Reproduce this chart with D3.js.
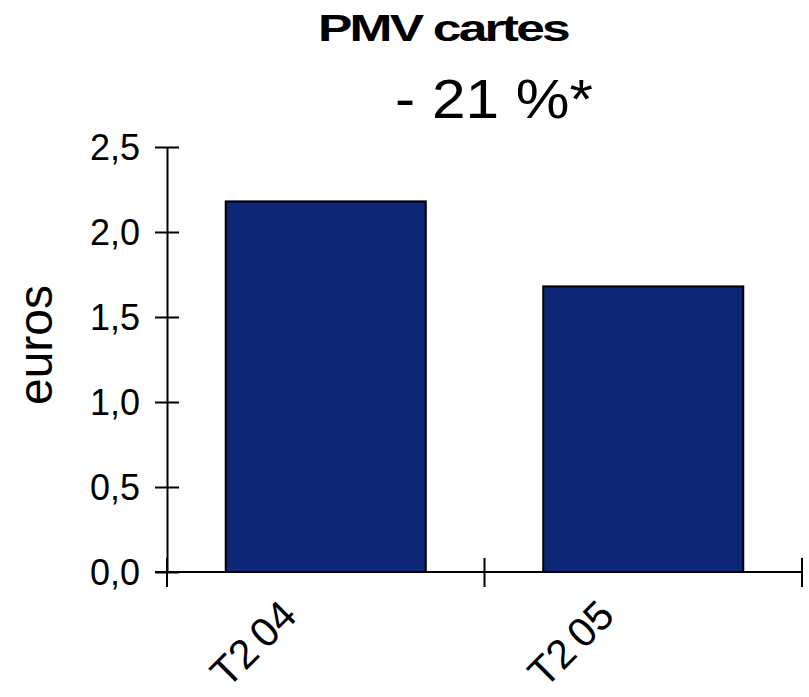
<!DOCTYPE html>
<html>
<head>
<meta charset="utf-8">
<script src="https://cdn.jsdelivr.net/npm/d3@7"></script>
<style>
  html, body { margin: 0; padding: 0; background: #ffffff; }
  svg { display: block; font-family: "Liberation Sans", Arial, sans-serif; }
</style>
</head>
<body>
<svg id="chart" width="809" height="697"></svg>
<script>
// Average transaction value of card payments, in euros
const categories = ["T2 04", "T2 05"];
const values = [2.18, 1.68];
const yTicks = [0, 0.5, 1.0, 1.5, 2.0, 2.5];
const title = "PMV cartes";
const subtitle = "- 21 %*";
const yLabel = "euros";

const svg = d3.select("#chart");
const plotLeft = 167, plotRight = 802, plotTop = 147, plotBottom = 572;

const x = d3.scaleBand()
  .domain(categories)
  .range([plotLeft, plotRight])
  .paddingInner(0.37)
  .paddingOuter(0.185);

const y = d3.scaleLinear()
  .domain([0, 2.5])
  .range([plotBottom, plotTop]);

const fmt = v => d3.format(".1f")(v).replace(".", ",");

// Bars
svg.append("g")
  .selectAll("rect")
  .data(categories.map((c, i) => ({ c, v: values[i] })))
  .join("rect")
  .attr("x", d => x(d.c))
  .attr("y", d => y(d.v))
  .attr("width", x.bandwidth())
  .attr("height", d => y(0) - y(d.v))
  .attr("fill", "#0d2675")
  .attr("stroke", "#000")
  .attr("stroke-width", 2);

// Y axis with ticks crossing the axis line
const yAxis = svg.append("g")
  .attr("transform", `translate(${plotLeft},0)`)
  .call(d3.axisLeft(y).tickValues(yTicks).tickFormat(fmt).tickSizeOuter(0));
yAxis.select(".domain").attr("stroke", "#000").attr("stroke-width", 2);
yAxis.selectAll(".tick line")
  .attr("x1", -12).attr("x2", 12)
  .attr("stroke", "#000").attr("stroke-width", 2);
yAxis.selectAll(".tick text")
  .attr("x", -27)
  .attr("dy", "0.36em")
  .attr("fill", "#000")
  .style("font-size", "36px")
  .style("font-family", "'Liberation Sans', Arial, sans-serif");

// X axis: baseline and category boundary ticks
const step = x.step();
const bounds = categories.map(c => x(c) - step * x.paddingInner() / 2).concat([plotRight]);
bounds[0] = plotLeft;
const xg = svg.append("g");
xg.append("line")
  .attr("x1", plotLeft - 12).attr("x2", plotRight)
  .attr("y1", y(0)).attr("y2", y(0))
  .attr("stroke", "#000").attr("stroke-width", 2);
xg.selectAll("line.tick")
  .data(bounds)
  .join("line")
  .attr("class", "tick")
  .attr("x1", d => d).attr("x2", d => d)
  .attr("y1", y(0) - 14).attr("y2", y(0) + 15)
  .attr("stroke", "#000").attr("stroke-width", 2);

// Rotated category labels
xg.selectAll("text")
  .data(categories)
  .join("text")
  .attr("transform", c => `translate(${x(c) + x.bandwidth() / 2 - 27},${y(0) + 46}) rotate(-45)`)
  .attr("text-anchor", "end")
  .style("font-size", "41px")
  .style("word-spacing", "-4px")
  .attr("fill", "#000")
  .text(c => c);

// Y axis title
svg.append("text")
  .attr("transform", `translate(52,345) rotate(-90)`)
  .attr("text-anchor", "middle")
  .style("font-size", "48px")
  .attr("fill", "#000")
  .text(yLabel);

// Titles
svg.append("text")
  .attr("x", 318).attr("y", 41)
  .attr("textLength", 250)
  .attr("lengthAdjust", "spacingAndGlyphs")
  .style("font-size", "37px")
  .style("font-weight", "bold")
  .style("letter-spacing", "-2px")
  .attr("fill", "#000")
  .text(title);

svg.append("text")
  .attr("x", 395).attr("y", 118)
  .attr("textLength", 198)
  .attr("lengthAdjust", "spacingAndGlyphs")
  .style("font-size", "56px")
  .attr("fill", "#000")
  .text(subtitle);
</script>
</body>
</html>
